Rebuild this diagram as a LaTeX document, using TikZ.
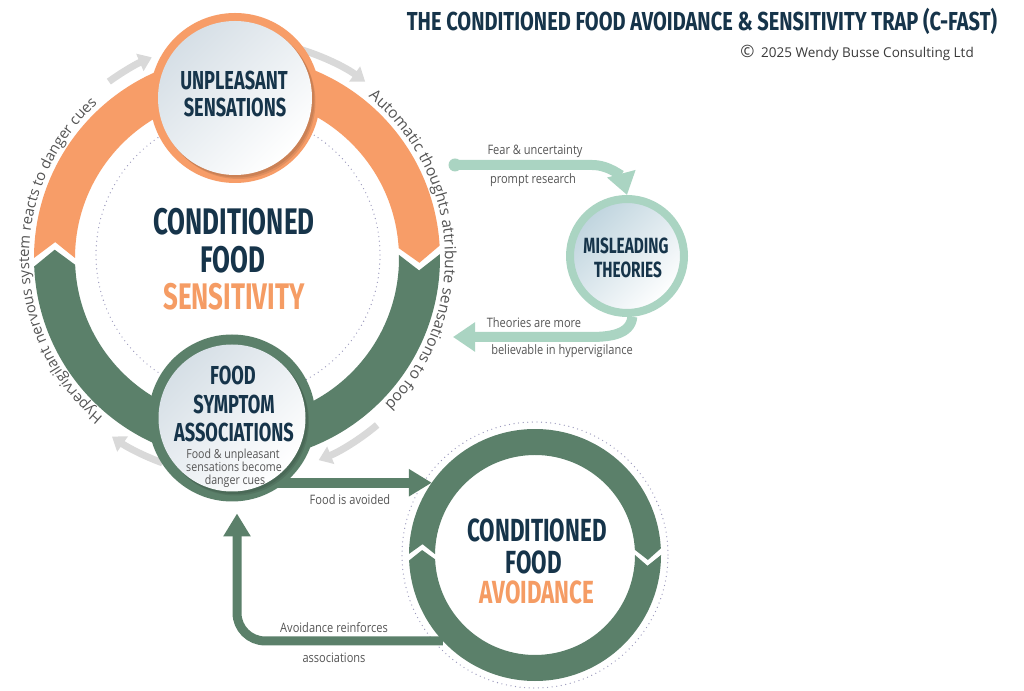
\documentclass[tikz,border=0pt]{standalone}
\usepackage{fontspec}
\usetikzlibrary{arrows.meta,calc,decorations.text}
\setmainfont{Open Sans}
\newfontfamily\condfont[FakeStretch=0.7]{Fira Sans}
\newfontfamily\titlefont[FakeStretch=0.77]{Fira Sans}
\newfontfamily\labelfont[FakeStretch=0.85]{Open Sans}
\newfontfamily\arcfont{Open Sans}
\definecolor{navy}{HTML}{16344A}
\definecolor{peach}{HTML}{F79D68}
\definecolor{peachtxt}{HTML}{F59C64}
\definecolor{sage}{HTML}{5B806A}
\definecolor{mint}{HTML}{AAD4C2}
\definecolor{txtgray}{HTML}{555555}
\definecolor{copycol}{HTML}{3A3A3A}
\definecolor{arrgray}{HTML}{D9D9D9}
\definecolor{dotcol}{HTML}{9A98BC}
\definecolor{nodeA}{HTML}{D6DFE6}
\definecolor{nodeB}{HTML}{BFD4DE}
\pgfdeclarelayer{back}
\pgfdeclarelayer{bg}
\pgfsetlayers{back,bg,main}
\tikzset{
  headtxt/.style={font=\condfont\bfseries\fontsize{#1}{#1}\selectfont, text=navy, inner sep=0pt, outer sep=0pt},
  lbl/.style={font=\labelfont\fontsize{13}{14}\selectfont, text=txtgray, inner sep=0pt, anchor=base},
  dotring/.style={draw=dotcol, line width=1.3pt, line cap=round, dash pattern=on 0pt off 4.6pt},
  grayarrow/.style={draw=arrgray, line width=7pt, -{Triangle[width=18pt,length=13pt]}},
  mintarrow/.style={draw=mint, line width=10pt, -{Triangle[width=28pt,length=22pt]}},
  sagearrow/.style={draw=sage, line width=10pt, -{Triangle[width=26pt,length=23pt]}},
  bignode/.style={circle, inner sep=0pt, outer sep=0pt},
  discshade/.style={top color=nodeA, bottom color=white, shading angle=45},
  innershadow/.style={fill=black, opacity=0.09},
}
\begin{document}
\begin{tikzpicture}[x=1pt,y=1pt]
\useasboundingbox (0,0) rectangle (1024,690);
\begin{pgfonlayer}{back}
\fill[white] (0,0) rectangle (1024,690);
\end{pgfonlayer}

% ---- main nodes ----
\coordinate (C) at (237,432);
\node[bignode, minimum size=170pt, fill=peach] (un) at (235,592) {};
\fill[innershadow] ([shift={(2,-2)}]un.center) circle (77.5pt);
\fill[innershadow] ([shift={(3.5,-4)}]un.center) circle (77pt);
\shade[discshade] (un.center) circle (77pt);

\node[bignode, minimum size=167pt, fill=sage] (bn) at (232,272) {};
\fill[innershadow] ([shift={(2,-2)}]bn.center) circle (74pt);
\fill[innershadow] ([shift={(3.5,-4)}]bn.center) circle (73.5pt);
\shade[discshade] (bn.center) circle (73.5pt);

\node[circle, inner sep=0pt, minimum size=114pt, draw=mint, line width=8pt, top color=nodeB, bottom color=white, shading angle=45] (mt) at (627,434) {};
\node[bignode, minimum size=252pt] (cfa) at (535,135) {};
\coordinate (fs) at (455,525);
\coordinate (thend) at (453,353);

\begin{pgfonlayer}{bg}
% dotted circles
\draw[dotring] ($(C)+(1,3)$) circle (142pt);
\draw[dotring] (cfa.center) circle (133pt);
% gray cycle arrows
\draw[grayarrow] ($(C)+(126:218pt)$) arc[start angle=126, end angle=113, radius=218pt];
\draw[grayarrow] ($(C)+(73:218pt)$) arc[start angle=73, end angle=54, radius=218pt];
\draw[grayarrow] ($(C)+(-50:218pt)$) arc[start angle=-50, end angle=-68, radius=218pt];
\draw[grayarrow] ($(C)+(-110:218pt)$) arc[start angle=-110, end angle=-125, radius=218pt];
% connectors
\fill[mint] (fs) circle (6.5pt);
\draw[mintarrow] (fs) -- (592,525) to[out=0,in=105] (mt.north);
\draw[mintarrow] (mt.-85) to[out=-95,in=0] (590,353) -- (thend);
\draw[sagearrow] (bn.center |- cfa.145) -- (cfa.145);
\draw[sagearrow, line width=9pt, rounded corners=28pt] (cfa.223) -| ([xshift=5pt,yshift=-12pt]bn.south);
% main ring
\fill[peach] ($(C)+(180:203pt)$) arc[start angle=180, end angle=3.5, radius=203pt]
  -- ($(C)+(-1.5:182.5pt)$) -- ($(C)+(3.5:162pt)$)
  arc[start angle=3.5, end angle=180, radius=162pt]
  -- ($(C)+(175:182.5pt)$) -- cycle;
\fill[sage] ($(C)+(1.1:203pt)$) arc[start angle=1.1, end angle=-177.6, radius=203pt]
  -- ($(C)+(-182.6:182.5pt)$) -- ($(C)+(-177.6:162pt)$)
  arc[start angle=-177.6, end angle=1.1, radius=162pt]
  -- ($(C)+(-3.9:182.5pt)$) -- cycle;
% avoidance ring
\fill[sage] ($(cfa.center)+(179.5:126pt)$) arc[start angle=179.5, end angle=3, radius=126pt]
  -- ($(cfa.center)+(-2.5:113pt)$) -- ($(cfa.center)+(3:100pt)$)
  arc[start angle=3, end angle=179.5, radius=100pt]
  -- ($(cfa.center)+(174.5:113pt)$) -- cycle;
\fill[sage] ($(cfa.center)+(0:126pt)$) arc[start angle=0, end angle=-177.5, radius=126pt]
  -- ($(cfa.center)+(-182.5:113pt)$) -- ($(cfa.center)+(-177.5:100pt)$)
  arc[start angle=-177.5, end angle=0, radius=100pt]
  -- ($(cfa.center)+(-5.5:113pt)$) -- cycle;
\end{pgfonlayer}

% curved texts
\path[decorate, decoration={text along path, text align=center, text color=txtgray,
  text={|\arcfont\fontsize{14.8}{17}\selectfont|Hypervigilant nervous system reacts to danger cues}}]
  ($(C)+(241:208pt)$) arc[start angle=241, end angle=121, radius=208pt];
\path[decorate, decoration={text along path, text align=center, text color=txtgray,
  text={|\arcfont\fontsize{15.5}{17}\selectfont|Automatic thoughts attribute sensations to food}}]
  ($(C)+(63:208pt)$) arc[start angle=63, end angle=-57, radius=208pt];

% title
\node[font=\titlefont\bfseries\fontsize{26}{26}\selectfont, text=navy, inner sep=0pt, anchor=base] (title) at (702,659) {THE CONDITIONED FOOD AVOIDANCE \& SENSITIVITY TRAP (C-FAST)};
\node[font=\fontsize{13.5}{14}\selectfont, text=copycol, inner sep=0pt, anchor=base] (copy) at (857,632) {{\fontsize{17}{17}\selectfont ©}\enspace 2025 Wendy Busse Consulting Ltd};

% centre text
\node[headtxt=37] (cf1) at (234,468) {CONDITIONED};
\node[headtxt=37] (cf2) at (233,430) {FOOD};
\node[headtxt=37, text=peachtxt] (cf3) at (234,393) {SENSITIVITY};

% node texts
\node[headtxt=26] (un1) at (234,609) {UNPLEASANT};
\node[headtxt=26] (un2) at (235,582.5) {SENSATIONS};
\node[headtxt=26] (bn1) at (233,315) {FOOD};
\node[headtxt=26] (bn2) at (234,286) {SYMPTOM};
\node[headtxt=26] (bn3) at (234,258) {ASSOCIATIONS};
\node[lbl, font=\labelfont\fontsize{12.5}{14}\selectfont] (bn4) at (233,231) {Food \& unpleasant};
\node[lbl, font=\labelfont\fontsize{12.5}{14}\selectfont] (bn5) at (234,218) {sensations become};
\node[lbl, font=\labelfont\fontsize{12.5}{14}\selectfont] (bn6) at (235,205.5) {danger cues};
\node[headtxt=22] (mt1) at (626,444) {MISLEADING};
\node[headtxt=22] (mt2) at (628,420) {THEORIES};
\node[headtxt=32] (cfa1) at (537,160) {CONDITIONED};
\node[headtxt=32] (cfa2) at (534,128) {FOOD};
\node[headtxt=32, text=peachtxt] (cfa3) at (537,98) {AVOIDANCE};

% connector labels
\node[lbl] (l1) at (535,535) {Fear \& uncertainty};
\node[lbl] (l2) at (533,506) {prompt research};
\node[lbl] (l3) at (534,362) {Theories are more};
\node[lbl] (l4) at (562,335) {believable in hypervigilance};
\node[lbl] (l5) at (350,185) {Food is avoided};
\node[lbl] (l6) at (334,57) {Avoidance reinforces};
\node[lbl] (l7) at (334,28) {associations};
\end{tikzpicture}
\end{document}
